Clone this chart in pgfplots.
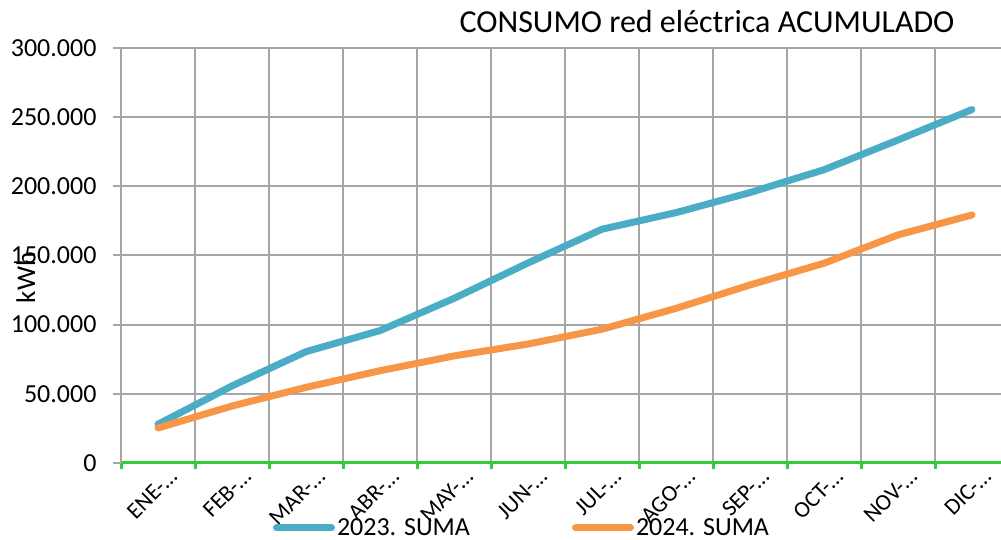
\documentclass[border=0pt]{standalone}
\usepackage{pgfplots}
\pgfplotsset{compat=1.18}
\usepackage{fontspec}
\setmainfont{Carlito}
\definecolor{serA}{HTML}{4BACC6}
\definecolor{serB}{HTML}{F79646}
\definecolor{gridc}{HTML}{A6A6A6}
\definecolor{axg}{HTML}{33CC33}
\begin{document}
\begin{tikzpicture}
\useasboundingbox (0,0) rectangle (1001pt,540pt);
\clip (0,0) rectangle (1001pt,540pt);
\begin{axis}[
  at={(121pt,77pt)}, anchor=south west,
  scale only axis, width=888pt, height=415pt,
  xmin=-0.5, xmax=11.5, ymin=0, ymax=300000,
  axis x line*=bottom, axis y line*=left,
  x axis line style={axg, line width=3pt, -},
  y axis line style={gridc, line width=2pt, -},
  xtick={0,...,11},
  xticklabels={ENE-…,FEB-…,MAR-…,ABR-…,MAY-…,JUN-…,JUL-…,AGO-…,SEP-…,OCT-…,NOV-…,DIC-…},
  minor xtick={-0.5,0.5,...,11.5},
  major x tick style={draw=none},
  minor x tick style={axg, line width=3pt},
  y tick style={gridc, line width=2pt},
  tick align=outside,
  major tick length=8pt,
  minor tick length=6pt,
  xminorgrids=true, xmajorgrids=false,
  ymajorgrids=true,
  grid style={gridc, line width=2pt},
  ytick={0,50000,...,300000},
  scaled y ticks=false,
  yticklabel style={/pgf/number format/fixed, /pgf/number format/precision=0,
    /pgf/number format/1000 sep={.}, /pgf/number format/assume math mode=true,
    font=\fontsize{26}{30}\selectfont, anchor=east, xshift=-13pt},
  xticklabel style={rotate=45, anchor=east, font=\fontsize{23}{27}\selectfont, xshift=13pt, yshift=-12pt},
  legend columns=2,
  legend style={at={(axis description cs:0.4516,-0.1566)}, anchor=center,
    draw=none, fill=none, font=\fontsize{26}{30}\selectfont,
    nodes={inner sep=2pt},
    /tikz/every even column/.append style={column sep=100pt}},
  legend image code/.code={\draw[#1, line width=7pt, line cap=round] (0pt,0pt) -- (55pt,0pt);},
  every axis plot/.append style={line width=7pt, line join=round, line cap=round, no markers},
]
\addplot[serA] coordinates {(0,28000)(1,55700)(2,80500)(3,95700)(4,119000)(5,144600)(6,169000)(7,181000)(8,195500)(9,212000)(10,233500)(11,255500)};
\addlegendentry{2023. SUMA}
\addplot[serB] coordinates {(0,25300)(1,41200)(2,54700)(3,66700)(4,77400)(5,86000)(6,96700)(7,111800)(8,128700)(9,144400)(10,164900)(11,179300)};
\addlegendentry{2024. SUMA}
\end{axis}
\node[anchor=base, font=\fontsize{32}{36}\selectfont] at (707pt,507pt) {CONSUMO red eléctrica ACUMULADO};
\node[rotate=90, anchor=base, font=\fontsize{27}{30}\selectfont] at (35pt,262pt) {kWh};
\end{tikzpicture}
\end{document}
